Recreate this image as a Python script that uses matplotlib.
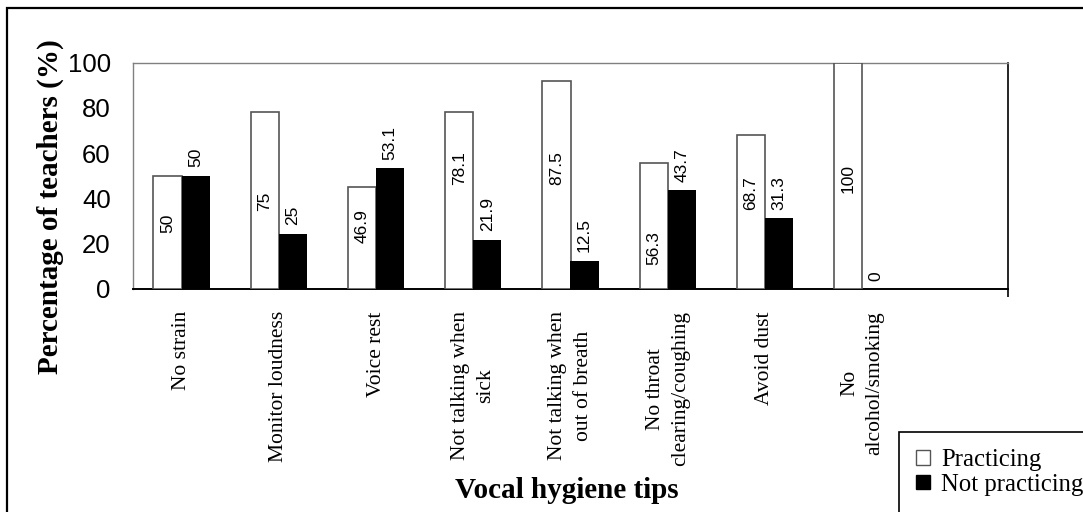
import numpy as np
import matplotlib.pyplot as plt
from matplotlib.patches import Patch, Rectangle

tips = ['No strain', 'Monitor loudness', 'Voice rest', 'Not talking when\nsick',
        'Not talking when\nout of breath', 'No throat\nclearing/coughing',
        'Avoid dust', 'No\nalcohol/smoking']
# bar heights as drawn in the source figure
practicing = [50, 78.3, 45.2, 78.3, 92, 55.7, 67.8, 100]
not_practicing = [50, 24.5, 53.3, 21.8, 12.5, 43.7, 31.3, 0]
practicing_labels = ['50', '75', '46.9', '78.1', '87.5', '56.3', '68.7', '100']
not_practicing_labels = ['50', '25', '53.1', '21.9', '12.5', '43.7', '31.3', '0']
# where the labels sit inside the white bars (the original placed them by hand)
inner_label_y = [29, 38.5, 28, 53.5, 53.5, 18, 42.5, 48.7]

serif = 'Liberation Serif'
sans = 'Liberation Sans'

fig = plt.figure(figsize=(10.83, 5.12), dpi=100)
ax = fig.add_axes([133 / 1083, 1 - 289 / 512, 875 / 1083, 226.5 / 512])

x = np.arange(len(tips))
w = 0.29
ax.bar(x - w / 2, practicing, w, color='white', edgecolor='#555555', linewidth=1.2, zorder=3)
ax.bar(x + w / 2, not_practicing, w, color='black', edgecolor='none', zorder=3)

for i in range(len(tips)):
    ax.text(x[i] - w / 2, inner_label_y[i], practicing_labels[i], rotation=90,
            ha='center', va='center', fontsize=12.5, family=sans)
    ax.annotate(not_practicing_labels[i], (x[i] + w / 2, not_practicing[i]),
                xytext=(0, 6), textcoords='offset points', rotation=90,
                ha='center', va='bottom', fontsize=12.5, family=sans)

ax.set_xlim(-0.5, 8.5)
ax.set_ylim(0, 100)
ax.set_yticks([0, 20, 40, 60, 80, 100])
ax.tick_params(axis='y', length=0, pad=16, labelsize=18.5)
for lab in ax.get_yticklabels():
    lab.set_family(sans)

ax.set_xticks(x)
ax.set_xticklabels(tips, rotation=90, fontsize=15.5, family=serif,
                   va='top', ha='center', multialignment='center', linespacing=1.45)
ax.tick_params(axis='x', length=0, pad=16)
ax.set_xticks([8.5], minor=True)
ax.tick_params(axis='x', which='minor', length=6, width=1.2, color='black')

ax.spines['left'].set_color('#808080')
ax.spines['top'].set_color('#808080')
ax.spines['left'].set_linewidth(1.0)
ax.spines['top'].set_linewidth(1.0)
ax.spines['right'].set_color('black')
ax.spines['right'].set_linewidth(1.2)
ax.spines['bottom'].set_color('black')
ax.spines['bottom'].set_linewidth(1.4)

fig.text(567 / 1083, 1 - 490 / 512, 'Vocal hygiene tips', ha='center', va='center',
         fontsize=21, fontweight='bold', family=serif)
fig.text(50 / 1083, 1 - 207 / 512, 'Percentage of teachers (%)', rotation=90,
         ha='center', va='center', fontsize=21, fontweight='bold', family=serif)

handles = [Patch(facecolor='white', edgecolor='#555555', linewidth=1.0, label='Practicing'),
           Patch(facecolor='black', edgecolor='black', label='Not practicing')]
leg = fig.legend(handles=handles, loc='upper left', bbox_to_anchor=(899 / 1083, 1 - 432 / 512),
                 prop={'family': serif, 'size': 17.8}, frameon=True, fancybox=False,
                 edgecolor='black', framealpha=1, handlelength=0.55, handleheight=0.55,
                 handletextpad=0.45, labelspacing=0.1, borderpad=0.7, borderaxespad=0)
leg.get_frame().set_linewidth(1.2)

fig.add_artist(Rectangle((7 / 1083, -0.5), 2, 0.5 + 1 - 8 / 512, transform=fig.transFigure,
                         fill=False, edgecolor='black', linewidth=1.6))

fig.savefig('out.png', dpi=100)
